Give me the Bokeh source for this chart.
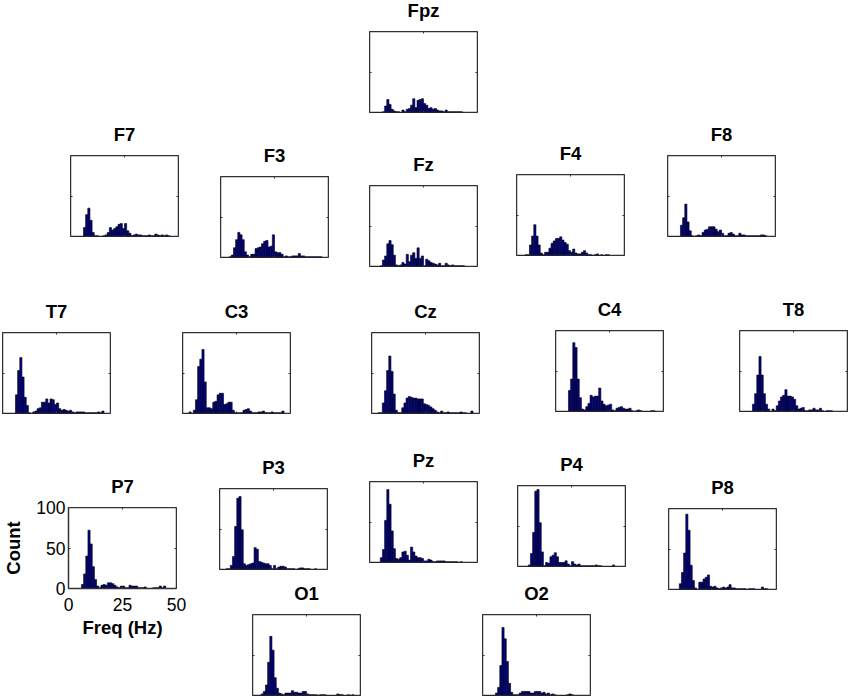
from bokeh.embed import file_html
from bokeh.layouts import column
from bokeh.models import FixedTicker, LinearAxis, Range1d
from bokeh.plotting import figure
from bokeh.resources import INLINE

# counts per 1 Hz bin (first value is the 0-1 Hz bin)
fpz = [0,0,0,0,0,0,1,8,16,10, 4,2,1,1,0,3,1,4,5,9, 17,6,15,16,17,11,9,5,6,4, 5,3,2,2,1,3,1,1,1,1, 1,1,1]
f7 = [0,0,0,0,0,0,11,27,35,20, 5,1,1,0,0,1,2,5,11,8, 10,12,15,16,10,16,7,4,1,2, 3,2,2,1,1,1,2,1,1,3, 2,1,2,1,2,1]
f3 = [0,0,0,0,1,3,12,22,31,28, 22,7,3,1,4,4,11,12,13,17, 20,21,13,14,28,7,6,6,4,1, 2,1,1,2,2,2,5,2,2,1, 1,1,1,1,1,1,1]
fz = [0,0,0,0,0,1,8,13,28,32, 27,14,2,1,2,5,3,15,6,14, 17,10,23,10,13,1,9,7,5,4, 3,2,4,1,1,4,2,1,2,1, 1,1,1,1]
f4 = [0,0,0,0,1,1,13,24,38,24, 13,3,1,4,4,9,15,18,21,21, 23,19,16,14,6,4,8,3,2,2, 4,6,3,1,1,0,1,2,0,1, 0,1,1]
f8 = [0,0,0,0,0,0,14,23,40,18, 7,1,0,1,2,1,5,8,9,12, 12,12,9,6,8,4,1,1,4,5, 3,1,1,4,2,2,1,1,1,1, 1,1,1,2,2,1]
t7 = [0,0,0,0,0,0,23,53,69,45, 20,10,1,0,2,3,6,7,14,14, 18,13,18,17,11,13,6,4,5,4, 3,4,2,1,2,2,2,2,1,1, 1,1,1,1,2,1,3]
c3 = [0,0,0,2,0,4,17,58,67,79, 39,7,7,6,14,15,23,25,25,11, 12,14,14,4,1,1,1,1,4,5, 6,3,1,1,1,2,2,3,1,1, 1,2,1,1,1,1,3]
cz = [0,0,0,1,1,13,28,53,71,52, 24,4,1,1,7,13,19,21,20,19, 19,18,18,18,12,11,10,8,6,4, 2,1,3,1,1,2,1,1,1,1, 1,2,1,1,0,0,3]
c4 = [0,0,0,0,0,0,26,40,85,79, 40,17,3,2,6,10,20,18,19,19, 29,13,9,7,8,9,2,1,4,5, 6,4,3,3,4,1,0,1,2,1, 0,0,0,0,1,1]
t8 = [0,0,0,0,0,0,9,22,45,68, 45,22,9,3,0,3,1,7,13,18, 20,27,19,19,18,15,7,3,4,5, 1,1,2,2,4,2,2,4,1,0, 1,1,1]
p7 = [0,0,0,0,0,0,5,18,40,72, 55,27,11,3,1,4,5,4,7,7, 6,4,2,1,3,3,1,1,4,3, 3,3,1,1,1,2,0,0,0,1, 1,1,3,1,3]
p3 = [0,0,0,1,1,5,16,53,88,90, 49,7,5,6,7,8,27,25,10,9, 8,7,7,5,1,5,1,3,4,4, 3,1,1,1,1,0,1,2,2,1, 1,1,0,0,1]
pz = [0,0,0,0,0,6,16,52,90,72, 39,17,5,4,6,13,14,9,3,19, 13,8,6,6,5,2,2,4,3,1, 1,2,2,2,2,1,1,1,1,1, 1,0,1]
p4 = [0,0,0,0,0,2,16,42,93,95, 54,18,1,5,4,12,14,17,12,5, 5,5,7,3,1,6,3,2,3,1, 1,1,1,1,1,1,2,1,1,0, 0,0,0,0,2]
p8 = [0,0,0,0,0,7,21,45,93,73, 30,11,2,0,9,9,13,15,18,4, 3,4,2,1,2,3,2,3,6,2, 2,1,1,1,1,1,0,1,1,1, 0,0,0,3,1,1]
o1 = [0,0,0,0,2,5,13,41,73,56, 22,9,3,2,1,3,3,3,6,4, 4,3,3,5,5,2,1,1,1,1, 0,1,1,1,0,0,0,0,0,2, 1,1,0,0,1,0,1]
o2 = [0,0,0,0,0,0,3,10,37,84, 70,42,15,4,1,1,1,3,5,5, 5,5,3,3,5,5,5,3,4,2, 3,1,2,1,0,0,0,0,0,1, 2,1]

x_ticks = [0, 25, 50]
y_ticks = [0, 50, 100]

# channel name, counts, left and top of the panel on the page
panels = [
    ("Fpz", fpz, 369, 31),
    ("F7", f7, 70, 155),
    ("F3", f3, 220, 176),
    ("Fz", fz, 369, 185),
    ("F4", f4, 516, 174),
    ("F8", f8, 667, 155),
    ("T7", t7, 2, 332),
    ("C3", c3, 182, 332),
    ("Cz", cz, 371, 332),
    ("C4", c4, 555, 330),
    ("T8", t8, 739, 330),
    ("P7", p7, 68, 507),
    ("P3", p3, 219, 488),
    ("Pz", pz, 369, 481),
    ("P4", p4, 517, 485),
    ("P8", p8, 668, 508),
    ("O1", o1, 252, 614),
    ("O2", o2, 482, 614),
]

FONT = "Liberation Sans"
FRAME_COLOR = "#333333"


def add_axis(p, side, ticks, location, labelled=False):
    # fixed_location keeps the axis on the frame without taking layout room
    axis = LinearAxis(ticker=FixedTicker(ticks=ticks), fixed_location=None if labelled else location)
    axis.axis_line_color = FRAME_COLOR
    axis.axis_line_width = 1.5
    axis.major_tick_line_color = FRAME_COLOR
    axis.major_tick_line_width = 1
    axis.major_tick_in = 2
    axis.major_tick_out = 0
    axis.minor_tick_line_color = None
    if labelled:
        axis.major_label_text_font = FONT
        axis.major_label_text_font_size = "17.5px"
        axis.major_label_text_color = "#000000"
        axis.axis_label_text_font = FONT
        axis.axis_label_text_font_style = "bold"
        axis.axis_label_text_font_size = "18.5px"
        axis.axis_label_text_color = "#000000"
    else:
        axis.major_label_overrides = {t: "" for t in ticks}
    p.add_layout(axis, side)
    return axis


def make_panel(name, counts, left, top):
    labelled = name == "P7"
    border_left = 68 if labelled else 3
    border_right = 20 if labelled else 2
    border_bottom = 54 if labelled else 2
    border_top = 48
    p = figure(
        frame_width=108,
        frame_height=81,
        x_range=Range1d(0, 50),
        y_range=Range1d(0, 100),
        x_axis_type=None,
        y_axis_type=None,
        toolbar_location=None,
        output_backend="svg",
        min_border_left=border_left,
        min_border_right=border_right,
        min_border_top=border_top,
        min_border_bottom=border_bottom,
        title=name,
    )
    p.border_fill_color = None
    p.background_fill_color = "#ffffff"
    p.outline_line_color = FRAME_COLOR
    p.outline_line_width = 1
    p.grid.visible = False

    p.title.align = "center"
    p.title.text_font = FONT
    p.title.text_font_size = "18.5px"
    p.title.text_font_style = "bold"
    p.title.text_color = "#000000"
    p.title.standoff = 22

    p.vbar(x=[i + 0.5 for i in range(len(counts))], top=counts, width=1, bottom=0,
           fill_color="#00008b", line_color="#000000", line_width=0.6)

    y_axis = add_axis(p, "left", y_ticks, 0, labelled)
    x_axis = add_axis(p, "below", x_ticks, 0, labelled)
    add_axis(p, "right", y_ticks, 50)
    add_axis(p, "above", x_ticks, 100)
    if labelled:
        y_axis.axis_label = "Count"
        y_axis.major_label_standoff = 3
        y_axis.axis_label_standoff = 9
        x_axis.axis_label = "Freq (Hz)"
        x_axis.major_label_standoff = 9
        x_axis.axis_label_standoff = 3

    # own column per panel so the outer column does not line up the frames
    box = column(p)
    box.styles = {"position": "absolute", "left": f"{left - border_left}px", "top": f"{top - border_top}px"}
    return box


boxes = [make_panel(*panel) for panel in panels]

layout = column(*boxes, width=834, height=682)

open("out.html", "w").write(file_html(layout, INLINE))
